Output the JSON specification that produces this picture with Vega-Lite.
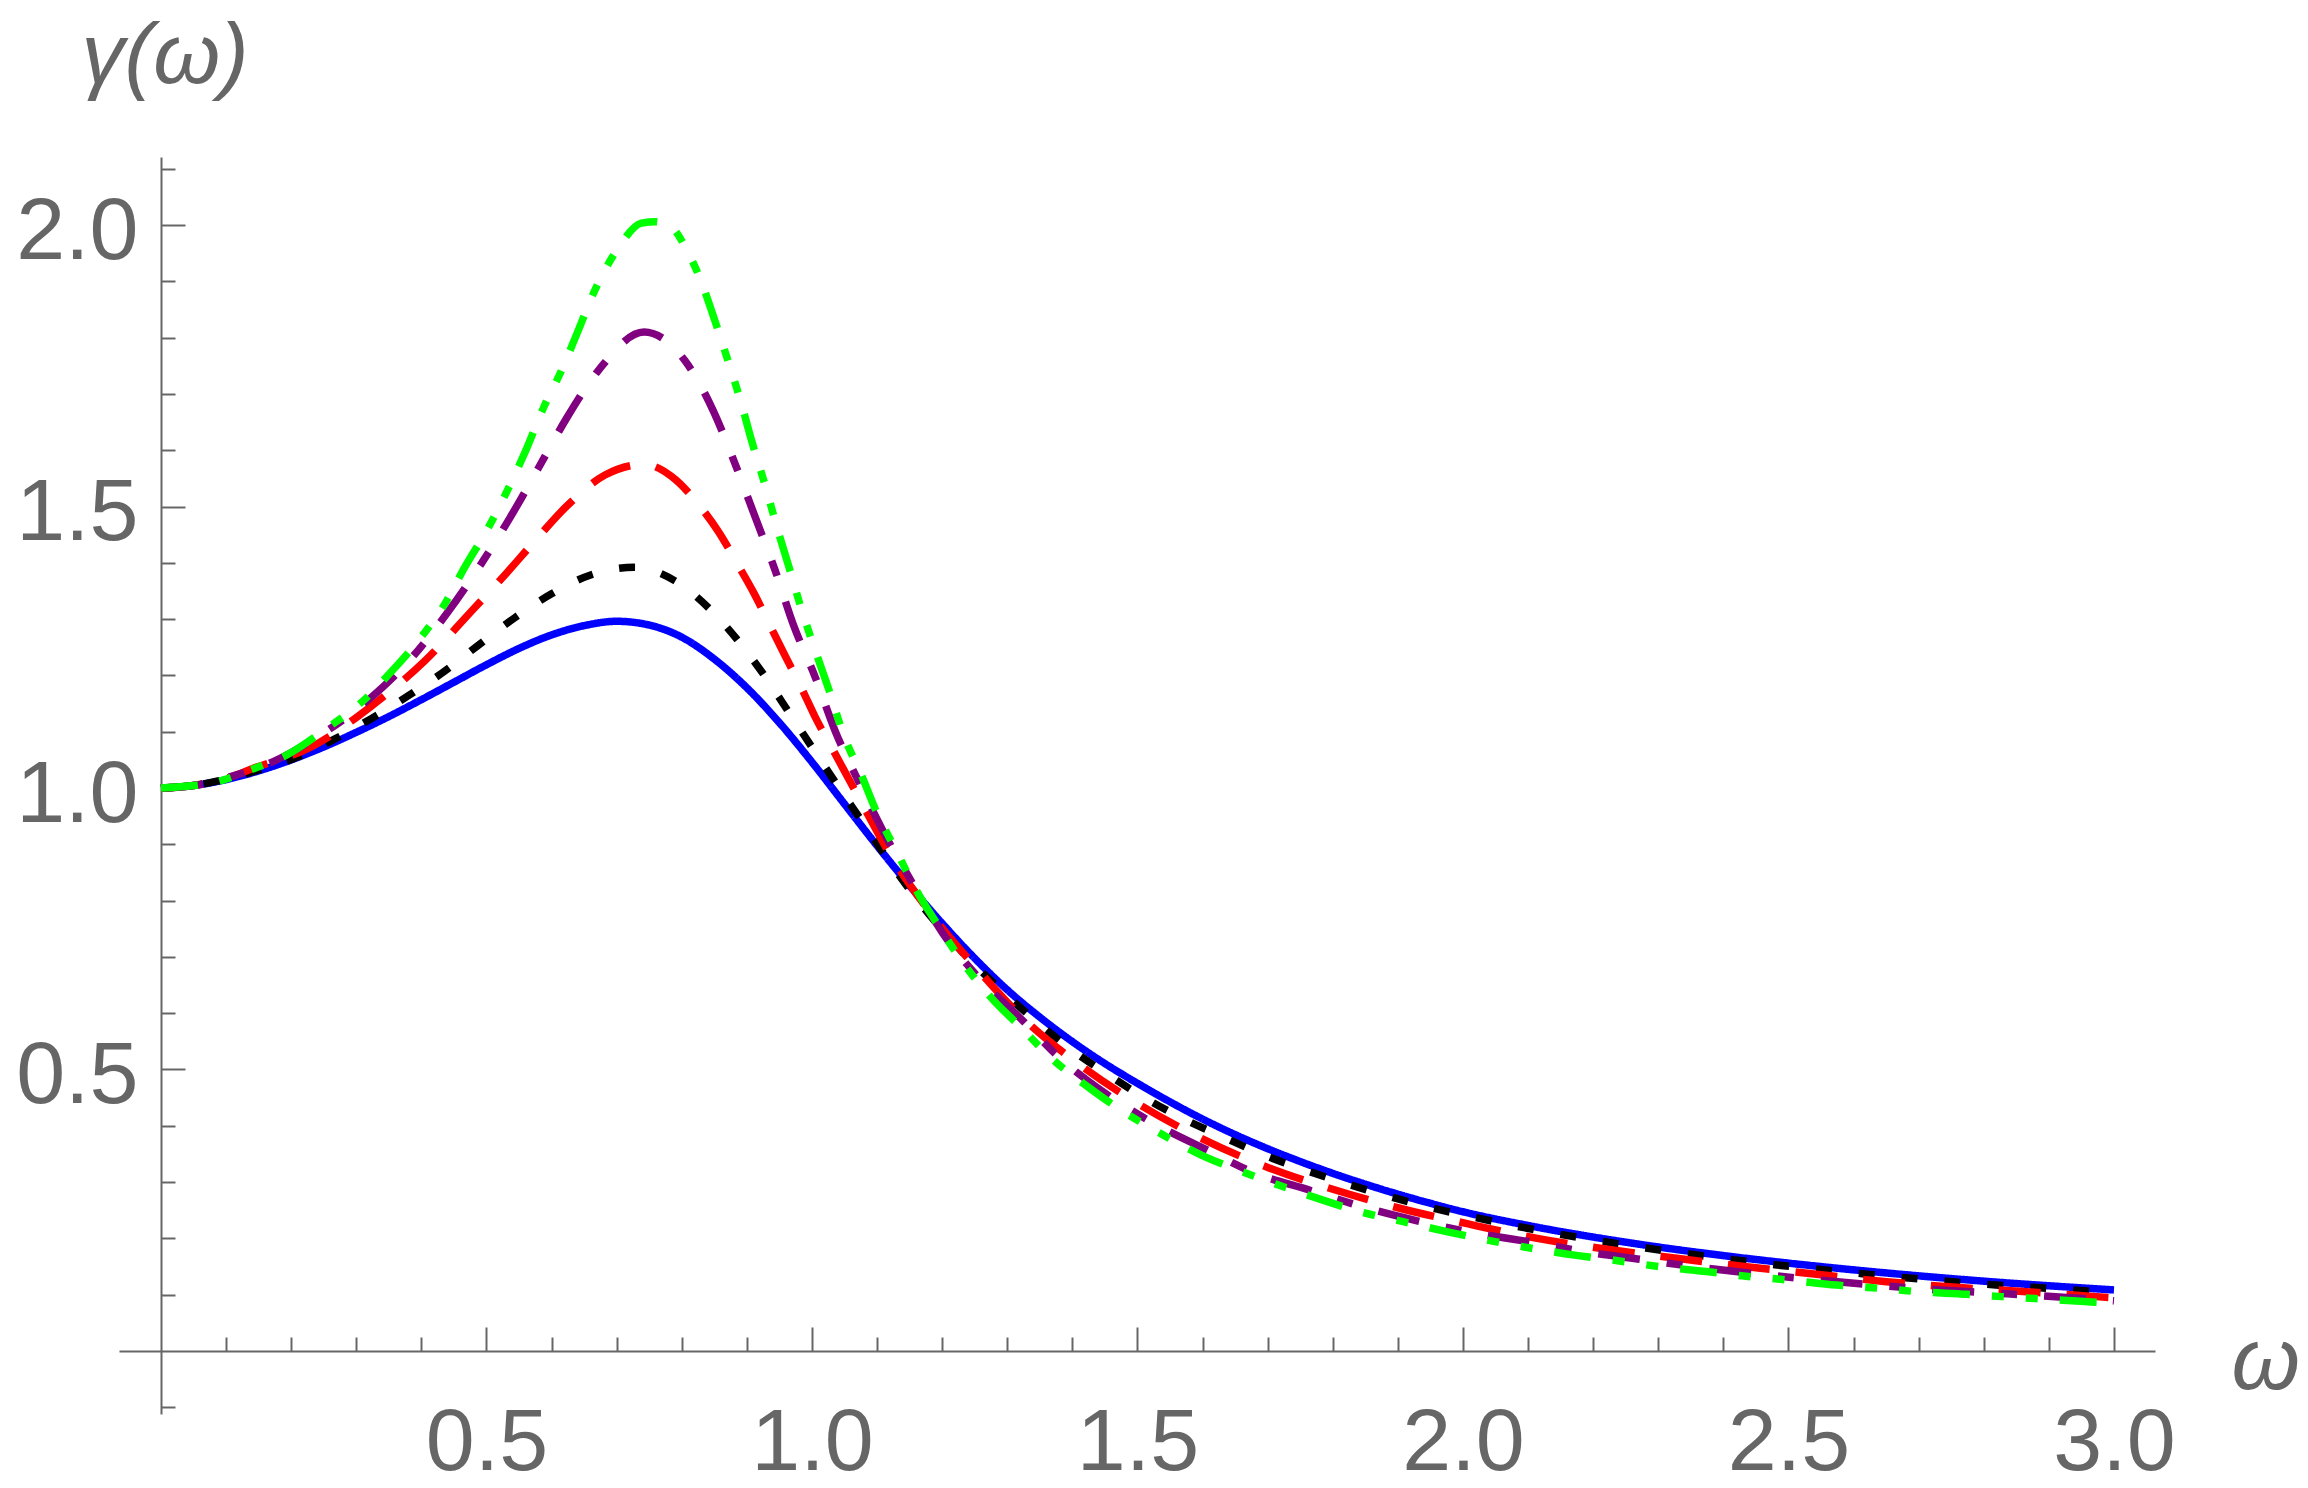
{
  "$schema": "https://vega.github.io/schema/vega-lite/v6.json",
  "width": 2036,
  "height": 1257,
  "autosize": {"type": "none"},
  "padding": {"left": 119, "top": 157, "right": 153, "bottom": 74},
  "background": "white",
  "config": {"view": {"stroke": null}},
  "data": {"values": [
    {"s":"blue","x":0,"y":1.0},{"s":"blue","x":0.05,"y":1.0045},{"s":"blue","x":0.1,"y":1.015},{"s":"blue","x":0.15,"y":1.0305},{"s":"blue","x":0.2,"y":1.05},{"s":"blue","x":0.25,"y":1.073},{"s":"blue","x":0.3,"y":1.099},{"s":"blue","x":0.35,"y":1.127},{"s":"blue","x":0.4,"y":1.157},{"s":"blue","x":0.45,"y":1.188},{"s":"blue","x":0.5,"y":1.219},{"s":"blue","x":0.55,"y":1.248},{"s":"blue","x":0.6,"y":1.272},{"s":"blue","x":0.65,"y":1.2885},{"s":"blue","x":0.7,"y":1.2962},{"s":"blue","x":0.75,"y":1.2895},{"s":"blue","x":0.8,"y":1.268},{"s":"blue","x":0.85,"y":1.229},{"s":"blue","x":0.9,"y":1.178},{"s":"blue","x":0.95,"y":1.116},{"s":"blue","x":1.0,"y":1.046},{"s":"blue","x":1.05,"y":0.9715},{"s":"blue","x":1.1,"y":0.8975},{"s":"blue","x":1.15,"y":0.8265},{"s":"blue","x":1.2,"y":0.7595},{"s":"blue","x":1.25,"y":0.6975},{"s":"blue","x":1.3,"y":0.6415},{"s":"blue","x":1.35,"y":0.593},{"s":"blue","x":1.4,"y":0.5495},{"s":"blue","x":1.45,"y":0.5105},{"s":"blue","x":1.5,"y":0.4755},{"s":"blue","x":1.55,"y":0.4425},{"s":"blue","x":1.6,"y":0.412},{"s":"blue","x":1.65,"y":0.3843},{"s":"blue","x":1.7,"y":0.3593},{"s":"blue","x":1.75,"y":0.3365},{"s":"blue","x":1.8,"y":0.3155},{"s":"blue","x":1.85,"y":0.2963},{"s":"blue","x":1.9,"y":0.2785},{"s":"blue","x":1.95,"y":0.2623},{"s":"blue","x":2.0,"y":0.2473},{"s":"blue","x":2.1,"y":0.2229},{"s":"blue","x":2.25,"y":0.1932},{"s":"blue","x":2.4,"y":0.1694},{"s":"blue","x":2.5,"y":0.156},{"s":"blue","x":2.65,"y":0.1386},{"s":"blue","x":2.8,"y":0.124},{"s":"blue","x":3.0,"y":0.1084},
    {"s":"black","x":0,"y":1.0},{"s":"black","x":0.05,"y":1.0045},{"s":"black","x":0.1,"y":1.016},{"s":"black","x":0.15,"y":1.032},{"s":"black","x":0.203,"y":1.052},{"s":"black","x":0.265,"y":1.086},{"s":"black","x":0.3236,"y":1.1237},{"s":"black","x":0.38,"y":1.164},{"s":"black","x":0.436,"y":1.208},{"s":"black","x":0.49,"y":1.256},{"s":"black","x":0.544,"y":1.303},{"s":"black","x":0.6,"y":1.345},{"s":"black","x":0.661,"y":1.379},{"s":"black","x":0.727,"y":1.392},{"s":"black","x":0.7896,"y":1.368},{"s":"black","x":0.843,"y":1.318},{"s":"black","x":0.887,"y":1.261},{"s":"black","x":0.928,"y":1.198},{"s":"black","x":0.965,"y":1.1336},{"s":"black","x":1.002,"y":1.069},{"s":"black","x":1.04,"y":1.003},{"s":"black","x":1.078,"y":0.939},{"s":"black","x":1.1147,"y":0.876},{"s":"black","x":1.1555,"y":0.811},{"s":"black","x":1.225,"y":0.716},{"s":"black","x":1.2928,"y":0.6386},{"s":"black","x":1.344,"y":0.586},{"s":"black","x":1.396,"y":0.5375},{"s":"black","x":1.452,"y":0.493},{"s":"black","x":1.508,"y":0.4517},{"s":"black","x":1.569,"y":0.4133},{"s":"black","x":1.63,"y":0.381},{"s":"black","x":1.6915,"y":0.3494},{"s":"black","x":1.757,"y":0.3215},{"s":"black","x":1.8187,"y":0.298},{"s":"black","x":1.884,"y":0.2753},{"s":"black","x":1.949,"y":0.255},{"s":"black","x":2.015,"y":0.238},{"s":"black","x":2.081,"y":0.222},{"s":"black","x":2.148,"y":0.2075},{"s":"black","x":2.2146,"y":0.1948},{"s":"black","x":2.281,"y":0.1828},{"s":"black","x":2.348,"y":0.1721},{"s":"black","x":2.415,"y":0.1622},{"s":"black","x":2.482,"y":0.1527},{"s":"black","x":2.549,"y":0.1447},{"s":"black","x":2.617,"y":0.1368},{"s":"black","x":2.685,"y":0.1295},{"s":"black","x":2.752,"y":0.1229},{"s":"black","x":2.8185,"y":0.1172},{"s":"black","x":2.886,"y":0.1121},{"s":"black","x":2.953,"y":0.107},{"s":"black","x":3.0,"y":0.1035},
    {"s":"red","x":0,"y":1.0},{"s":"red","x":0.05,"y":1.0045},{"s":"red","x":0.1,"y":1.017},{"s":"red","x":0.1418,"y":1.035},{"s":"red","x":0.2315,"y":1.0734},{"s":"red","x":0.322,"y":1.1445},{"s":"red","x":0.404,"y":1.2245},{"s":"red","x":0.48,"y":1.318},{"s":"red","x":0.531,"y":1.382},{"s":"red","x":0.572,"y":1.436},{"s":"red","x":0.623,"y":1.5005},{"s":"red","x":0.682,"y":1.556},{"s":"red","x":0.742,"y":1.575},{"s":"red","x":0.7844,"y":1.5535},{"s":"red","x":0.828,"y":1.5005},{"s":"red","x":0.856,"y":1.456},{"s":"red","x":0.887,"y":1.395},{"s":"red","x":0.91,"y":1.348},{"s":"red","x":0.938,"y":1.283},{"s":"red","x":0.9585,"y":1.2355},{"s":"red","x":0.9866,"y":1.171},{"s":"red","x":1.0046,"y":1.127},{"s":"red","x":1.035,"y":1.062},{"s":"red","x":1.0712,"y":0.9846},{"s":"red","x":1.122,"y":0.878},{"s":"red","x":1.186,"y":0.772},{"s":"red","x":1.255,"y":0.677},{"s":"red","x":1.327,"y":0.588},{"s":"red","x":1.4116,"y":0.508},{"s":"red","x":1.504,"y":0.437},{"s":"red","x":1.598,"y":0.3778},{"s":"red","x":1.6974,"y":0.3274},{"s":"red","x":1.795,"y":0.289},{"s":"red","x":1.903,"y":0.2535},{"s":"red","x":2.008,"y":0.2256},{"s":"red","x":2.114,"y":0.2},{"s":"red","x":2.221,"y":0.1806},{"s":"red","x":2.328,"y":0.1647},{"s":"red","x":2.436,"y":0.1495},{"s":"red","x":2.536,"y":0.1372},{"s":"red","x":2.6505,"y":0.123},{"s":"red","x":2.758,"y":0.1131},{"s":"red","x":2.866,"y":0.1053},{"s":"red","x":2.973,"y":0.0965},{"s":"red","x":3.0,"y":0.0945},
    {"s":"purple","x":0,"y":1.0},{"s":"purple","x":0.05,"y":1.0045},{"s":"purple","x":0.1,"y":1.018},{"s":"purple","x":0.1725,"y":1.047},{"s":"purple","x":0.229,"y":1.0826},{"s":"purple","x":0.321,"y":1.159},{"s":"purple","x":0.384,"y":1.23},{"s":"purple","x":0.439,"y":1.31},{"s":"purple","x":0.49,"y":1.395},{"s":"purple","x":0.536,"y":1.48},{"s":"purple","x":0.58,"y":1.569},{"s":"purple","x":0.623,"y":1.657},{"s":"purple","x":0.672,"y":1.742},{"s":"purple","x":0.742,"y":1.81},{"s":"purple","x":0.805,"y":1.759},{"s":"purple","x":0.848,"y":1.671},{"s":"purple","x":0.882,"y":1.5755},{"s":"purple","x":0.912,"y":1.4836},{"s":"purple","x":0.943,"y":1.388},{"s":"purple","x":0.9714,"y":1.29},{"s":"purple","x":1.0046,"y":1.198},{"s":"purple","x":1.035,"y":1.103},{"s":"purple","x":1.074,"y":1.006},{"s":"purple","x":1.1096,"y":0.9225},{"s":"purple","x":1.15,"y":0.8395},{"s":"purple","x":1.201,"y":0.742},{"s":"purple","x":1.2627,"y":0.655},{"s":"purple","x":1.3175,"y":0.594},{"s":"purple","x":1.381,"y":0.52},{"s":"purple","x":1.45,"y":0.458},{"s":"purple","x":1.524,"y":0.405},{"s":"purple","x":1.601,"y":0.3605},{"s":"purple","x":1.6815,"y":0.3156},{"s":"purple","x":1.765,"y":0.2854},{"s":"purple","x":1.849,"y":0.255},{"s":"purple","x":1.935,"y":0.2297},{"s":"purple","x":2.021,"y":0.209},{"s":"purple","x":2.107,"y":0.193},{"s":"purple","x":2.192,"y":0.1753},{"s":"purple","x":2.2796,"y":0.1616},{"s":"purple","x":2.3667,"y":0.148},{"s":"purple","x":2.4536,"y":0.1368},{"s":"purple","x":2.537,"y":0.1268},{"s":"purple","x":2.63,"y":0.1172},{"s":"purple","x":2.7328,"y":0.1084},{"s":"purple","x":2.804,"y":0.1036},{"s":"purple","x":2.891,"y":0.0977},{"s":"purple","x":2.981,"y":0.0906},{"s":"purple","x":3.0,"y":0.089},
    {"s":"green","x":0,"y":1.0},{"s":"green","x":0.05,"y":1.0045},{"s":"green","x":0.075,"y":1.0083},{"s":"green","x":0.144,"y":1.035},{"s":"green","x":0.193,"y":1.0586},{"s":"green","x":0.2545,"y":1.106},{"s":"green","x":0.313,"y":1.1575},{"s":"green","x":0.349,"y":1.2007},{"s":"green","x":0.398,"y":1.2658},{"s":"green","x":0.439,"y":1.333},{"s":"green","x":0.4645,"y":1.388},{"s":"green","x":0.503,"y":1.463},{"s":"green","x":0.536,"y":1.538},{"s":"green","x":0.559,"y":1.596},{"s":"green","x":0.587,"y":1.674},{"s":"green","x":0.618,"y":1.749},{"s":"green","x":0.6385,"y":1.806},{"s":"green","x":0.6667,"y":1.885},{"s":"green","x":0.7025,"y":1.9595},{"s":"green","x":0.738,"y":2.0036},{"s":"green","x":0.76,"y":2.006},{"s":"green","x":0.787,"y":1.993},{"s":"green","x":0.8075,"y":1.956},{"s":"green","x":0.8305,"y":1.898},{"s":"green","x":0.848,"y":1.84},{"s":"green","x":0.871,"y":1.759},{"s":"green","x":0.893,"y":1.677},{"s":"green","x":0.907,"y":1.618},{"s":"green","x":0.928,"y":1.538},{"s":"green","x":0.948,"y":1.456},{"s":"green","x":0.964,"y":1.395},{"s":"green","x":0.984,"y":1.317},{"s":"green","x":1.0077,"y":1.2355},{"s":"green","x":1.025,"y":1.178},{"s":"green","x":1.048,"y":1.096},{"s":"green","x":1.077,"y":1.02},{"s":"green","x":1.0968,"y":0.9638},{"s":"green","x":1.13,"y":0.887},{"s":"green","x":1.163,"y":0.813},{"s":"green","x":1.1915,"y":0.76},{"s":"green","x":1.2325,"y":0.689},{"s":"green","x":1.2785,"y":0.6235},{"s":"green","x":1.319,"y":0.577},{"s":"green","x":1.3707,"y":0.517},{"s":"green","x":1.427,"y":0.4665},{"s":"green","x":1.4706,"y":0.431},{"s":"green","x":1.535,"y":0.3866},{"s":"green","x":1.598,"y":0.348},{"s":"green","x":1.647,"y":0.3245},{"s":"green","x":1.7166,"y":0.2948},{"s":"green","x":1.786,"y":0.2675},{"s":"green","x":1.8367,"y":0.249},{"s":"green","x":1.908,"y":0.2297},{"s":"green","x":1.98,"y":0.2108},{"s":"green","x":2.031,"y":0.1984},{"s":"green","x":2.105,"y":0.1824},{"s":"green","x":2.177,"y":0.1693},{"s":"green","x":2.2296,"y":0.1616},{"s":"green","x":2.3026,"y":0.1497},{"s":"green","x":2.374,"y":0.141},{"s":"green","x":2.428,"y":0.1336},{"s":"green","x":2.4997,"y":0.126},{"s":"green","x":2.574,"y":0.117},{"s":"green","x":2.628,"y":0.1124},{"s":"green","x":2.6994,"y":0.1053},{"s":"green","x":2.774,"y":0.1007},{"s":"green","x":2.8275,"y":0.0965},{"s":"green","x":2.899,"y":0.0918},{"s":"green","x":2.973,"y":0.0865},{"s":"green","x":3.0,"y":0.085}
  ]},
  "resolve": {"axis": {"x": "independent", "y": "independent"}},
  "layer": [
    {
      "mark": {"type": "point", "opacity": 0},
      "encoding": {
        "x": {"field": "x", "type": "quantitative",
          "scale": {"domain": [-0.0645, 3.063], "nice": false, "zero": false},
          "axis": {"orient": "bottom", "offset": -63, "values": [0.1,0.2,0.3,0.4,0.6,0.7,0.8,0.9,1.1,1.2,1.3,1.4,1.6,1.7,1.8,1.9,2.1,2.2,2.3,2.4,2.6,2.7,2.8,2.9],
            "labels": false, "domain": false, "grid": false, "ticks": true, "tickSize": -14, "tickWidth": 2, "tickColor": "#666666", "title": null}},
        "y": {"field": "y", "type": "quantitative",
          "scale": {"domain": [-0.112, 2.121], "nice": false, "zero": false},
          "axis": {"orient": "left", "offset": -42, "values": [-0.1,0.1,0.2,0.3,0.4,0.6,0.7,0.8,0.9,1.1,1.2,1.3,1.4,1.6,1.7,1.8,1.9,2.1],
            "labels": false, "domain": false, "grid": false, "ticks": true, "tickSize": -14, "tickWidth": 2, "tickColor": "#666666", "title": null}}
      }
    },
    {
      "mark": {"type": "point", "opacity": 0},
      "encoding": {
        "x": {"field": "x", "type": "quantitative",
          "scale": {"domain": [-0.0645, 3.063], "nice": false, "zero": false},
          "axis": {"orient": "bottom", "offset": -63, "values": [0.5,1.0,1.5,2.0,2.5,3.0],
            "labels": false, "domain": false, "grid": false, "ticks": true, "tickSize": -24, "tickWidth": 2, "tickColor": "#666666", "title": null}},
        "y": {"field": "y", "type": "quantitative",
          "scale": {"domain": [-0.112, 2.121], "nice": false, "zero": false},
          "axis": {"orient": "left", "offset": -42, "values": [0.5,1.0,1.5,2.0],
            "labels": false, "domain": false, "grid": false, "ticks": true, "tickSize": -24, "tickWidth": 2, "tickColor": "#666666", "title": null}}
      }
    },
    {
      "mark": {"type": "line", "strokeWidth": 7.5, "strokeCap": "butt", "interpolate": "monotone"},
      "encoding": {
        "x": {"field": "x", "type": "quantitative",
          "scale": {"domain": [-0.0645, 3.063], "nice": false, "zero": false},
          "axis": {"orient": "bottom", "offset": -63, "values": [0.5,1.0,1.5,2.0,2.5,3.0], "format": ".1f",
            "ticks": false, "grid": false, "domain": true, "domainColor": "#666666", "domainWidth": 2,
            "labelFont": "Liberation Sans", "labelFontSize": 88, "labelColor": "#666666", "labelPadding": 48,
            "labelFlush": false, "labelOverlap": false, "labelBound": false,
            "title": "ω", "titleFont": "Liberation Sans", "titleFontSize": 88, "titleFontStyle": "italic", "titleFontWeight": "normal",
            "titleColor": "#666666", "titleAngle": 0, "titleX": 2112, "titleY": 37, "titleAlign": "left", "titleBaseline": "alphabetic"}},
        "y": {"field": "y", "type": "quantitative",
          "scale": {"domain": [-0.112, 2.121], "nice": false, "zero": false},
          "axis": {"orient": "left", "offset": -42, "values": [0.5,1.0,1.5,2.0], "format": ".1f",
            "ticks": false, "grid": false, "domain": true, "domainColor": "#666666", "domainWidth": 2,
            "labelFont": "Liberation Sans", "labelFontSize": 88, "labelColor": "#666666", "labelPadding": 23, "labelOffset": 7,
            "labelFlush": false, "labelOverlap": false, "labelBound": false,
            "title": "γ(ω)", "titleFont": "Liberation Sans", "titleFontSize": 86, "titleFontStyle": "italic", "titleFontWeight": "normal",
            "titleColor": "#666666", "titleAngle": 0, "titleX": -80, "titleY": -75, "titleAlign": "left", "titleBaseline": "alphabetic"}},
        "color": {"field": "s", "type": "nominal", "legend": null,
          "scale": {"domain": ["blue","black","red","purple","green"], "range": ["#0000ff","#000000","#ff0000","#800080","#00ff00"]}},
        "strokeDash": {"field": "s", "type": "nominal", "legend": null,
          "scale": {"domain": ["blue","black","red","purple","green"], "range": [[1,0],[16,27],[42,26],[42,27,16,27],[37,22,12,22,12,22]]}}
      }
    }
  ]
}
